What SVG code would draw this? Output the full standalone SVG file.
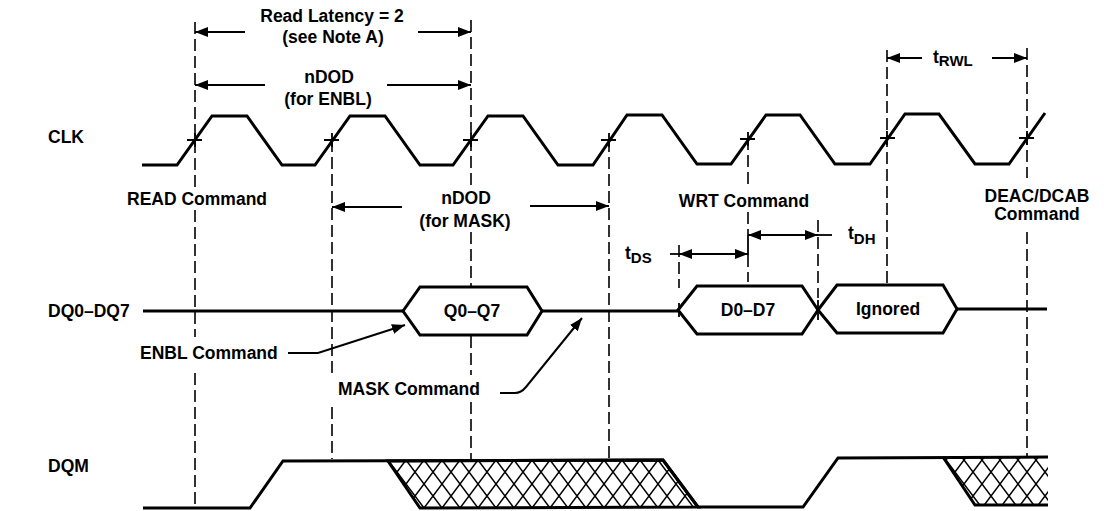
<svg xmlns="http://www.w3.org/2000/svg" width="1104" height="511" viewBox="0 0 1104 511">
<style>
.w{fill:none;stroke:#000;stroke-width:3;stroke-linejoin:miter}
.d{fill:none;stroke:#000;stroke-width:1.6;stroke-dasharray:12 5}
.k{fill:none;stroke:#000;stroke-width:1.8}
.a{fill:none;stroke:#000;stroke-width:2;marker-end:url(#ah)}
.t{font-family:"Liberation Sans",Arial,Helvetica,sans-serif;font-weight:bold;font-size:17.5px;fill:#000}
.m{text-anchor:middle}
.s{font-size:15px}
</style>
<defs>
<marker id="ah" markerUnits="userSpaceOnUse" markerWidth="14" markerHeight="10" refX="13" refY="5" orient="auto"><path d="M0,0 L13,5 L0,10 z" fill="#000"/></marker>
<pattern id="hatch" patternUnits="userSpaceOnUse" width="18" height="24" x="388" y="460">
<path d="M-4.5,-6 L22.5,30 M22.5,-6 L-4.5,30" stroke="#000" stroke-width="1.5" fill="none"/>
</pattern>
</defs>
<rect width="1104" height="511" fill="#fff"/>

<g id="guides">
<path class="d" d="M195,22 V188 M195,210 V337 M195,373 V507"/>
<path class="d" d="M332,140 V374 M332,407 V459"/>
<path class="d" d="M471,20 V185 M471,232 V287 M471,336 V375 M471,402 V459"/>
<path class="d" d="M609,140 V458"/>
<path class="d" d="M748,138 V187 M748,212 V235 M748,255 V282"/>
<path class="d" d="M679,245 V288"/>
<path class="d" d="M818,220 V298"/>
<path class="d" d="M887,50 V284"/>
<path class="d" d="M1027,48 V178 M1027,232 V457"/>
<path class="k" d="M748,235 V255"/>
</g>

<g id="clk">
<text class="t" x="48" y="143">CLK</text>
<path class="w" d="M142,165 L177,165 L212,116 L247,116 L282,165 L315,165 L350,116 L385,116 L420,165 L453,165 L488,116 L523,116 L558,165 L593,165 L627,115 L662,115 L697,164 L731,164 L766,115 L800,115 L835,164 L870,164 L905,114 L939,114 L975,164 L1009,164 L1045,113"/>
<path class="k" d="M187,140 H202 M195,133 V147 M324,140 H339 M332,133 V147 M463,140 H478 M471,133 V147 M601,140 H616 M609,133 V147 M740,139 H755 M748,132 V146 M880,138 H895 M887,131 V145 M1019,138 H1034 M1027,131 V145"/>
</g>

<g id="dq">
<text class="t" x="48" y="317">DQ0–DQ7</text>
<path class="w" d="M143,311 L403,311 M542,311 L678,311 M957,309 L1047,309"/>
</g>

<g id="q0q7">
<path class="w" d="M403,311 L420,287 L527,287 L542,311 L527,335 L420,335 Z"/>
<text class="t m" x="472" y="317">Q0–Q7</text>
</g>

<g id="d0d7">
<path class="w" d="M678,310 L697,286 L802,286 L818,310 L802,334 L697,334 Z"/>
<text class="t m" x="748" y="316">D0–D7</text>
</g>

<g id="ignored">
<path class="w" d="M818,310 L837,285 L943,285 L957,309 L943,333 L837,333 Z"/>
<text class="t m" x="888" y="315">Ignored</text>
</g>
<path class="k" d="M679,303 V317 M818,300 V320"/>

<g id="dqm">
<text class="t" x="48" y="472">DQM</text>
<polygon points="388,461 663,460 698,507 420,508" fill="url(#hatch)" stroke="#000" stroke-width="3"/>
<polygon points="943,457 1048,457 1048,505 975,505" fill="url(#hatch)"/>
<path class="w" d="M1048,505 L975,505 L943,457"/>
<path class="w" d="M143,508 L250,508 L283,461 L663,460 L698,507 L803,507 L838,458 L1048,457"/>
</g>

<g id="labels">
<text class="t m" x="332" y="22">Read Latency = 2</text>
<text class="t m" x="333" y="43">(see Note A)</text>
<text class="t m" x="329" y="83">nDOD</text>
<text class="t m" x="328" y="105">(for ENBL)</text>
<text class="t" x="127" y="205">READ Command</text>
<text class="t m" x="466" y="204">nDOD</text>
<text class="t m" x="465" y="227">(for MASK)</text>
<text class="t m" x="744" y="207">WRT Command</text>
<text class="t m" x="1037" y="202">DEAC/DCAB</text>
<text class="t m" x="1037" y="220">Command</text>
<text class="t" x="933" y="63">t<tspan class="s" dy="3">RWL</tspan></text>
<text class="t" x="625" y="259">t<tspan class="s" dy="4">DS</tspan></text>
<text class="t" x="848" y="239">t<tspan class="s" dy="5">DH</tspan></text>
<text class="t" x="140" y="359">ENBL Command</text>
<text class="t" x="338" y="395">MASK Command</text>
</g>

<g id="connectors">
<line class="a" x1="245" y1="32" x2="195" y2="32"/>
<line class="a" x1="418" y1="32" x2="471" y2="32"/>
<line class="a" x1="265" y1="85" x2="195" y2="85"/>
<line class="a" x1="387" y1="85" x2="471" y2="85"/>
<line class="a" x1="402" y1="207" x2="332" y2="207"/>
<line class="a" x1="530" y1="206" x2="609" y2="206"/>
<line class="a" x1="922" y1="58" x2="887" y2="58"/>
<line class="a" x1="992" y1="58" x2="1027" y2="58"/>
<line class="k" x1="670" y1="254" x2="679" y2="254"/>
<line class="a" x1="714" y1="254" x2="679" y2="254"/>
<line class="a" x1="714" y1="254" x2="748" y2="254"/>
<line class="a" x1="783" y1="235" x2="748" y2="235"/>
<line class="a" x1="783" y1="235" x2="818" y2="235"/>
<line class="k" x1="818" y1="235" x2="832" y2="235"/>
<path class="a" d="M288,353 L318,353 L405,325"/>
<path class="a" d="M500,393 L515,393 Q521,393 526,387 L582,318"/>
</g>
</svg>
